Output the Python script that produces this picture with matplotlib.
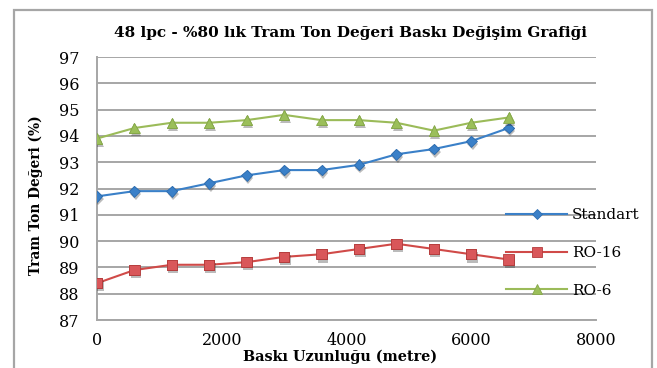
import matplotlib
matplotlib.use("Agg")
import matplotlib.pyplot as plt
import matplotlib.patheffects as pe
from matplotlib.patches import Rectangle

# Print length (metres) and measured tone values (%)
baski_uzunlugu = [0, 600, 1200, 1800, 2400, 3000, 3600, 4200, 4800, 5400, 6000, 6600]
standart = [91.7, 91.9, 91.9, 92.2, 92.5, 92.7, 92.7, 92.9, 93.3, 93.5, 93.8, 94.3]
ro_16 = [88.4, 88.9, 89.1, 89.1, 89.2, 89.4, 89.5, 89.7, 89.9, 89.7, 89.5, 89.3]
ro_6 = [93.9, 94.3, 94.5, 94.5, 94.6, 94.8, 94.6, 94.6, 94.5, 94.2, 94.5, 94.7]

x_ticks = [0, 2000, 4000, 6000, 8000]
y_ticks = [87, 88, 89, 90, 91, 92, 93, 94, 95, 96, 97]

title = "48 lpc - %80 lık Tram Ton Değeri Baskı Değişim Grafiği"
x_label = "Baskı Uzunluğu (metre)"
y_label = "Tram Ton Değeri (%)"

SERIF = ["DejaVu Serif"]
plt.rcParams["font.family"] = SERIF

W, H = 657, 368
fig = plt.figure(figsize=(W / 100, H / 100), dpi=100)
fig.patch.set_facecolor("white")

# outer chart frame
fig.patches.append(Rectangle((14 / W, -0.05), (652 - 14) / W, 1.05 - 10 / H,
                             transform=fig.transFigure, fill=False,
                             edgecolor="#a6a6a6", linewidth=1.6))

ax = fig.add_axes([97 / W, 1 - 320 / H, (596 - 97) / W, (320 - 57) / H])

grid_c = "#a6a6a6"
marker_shadow = [pe.SimplePatchShadow(offset=(1.0, -2.2), alpha=0.3,
                                      shadow_rgbFace="#202020"),
                 pe.Normal()]

series = [
    (standart, "Standart", "#3a80c8", "D", 5.5, "#3a80c8", "#2f6eb0"),
    (ro_16, "RO-16", "#d04a48", "s", 7.5, "#d9575a", "#b43c3c"),
    (ro_6, "RO-6", "#9bbb59", "^", 7.5, "#9bbf5a", "#86a84a"),
]
for values, name, lc, mk, ms, fc, ec in series:
    ax.plot(baski_uzunlugu, values, color=lc, lw=1.5, marker=mk, ms=ms,
            mfc=fc, mec=ec, mew=0.6, label=name, zorder=3)
    # markers again, with a soft drop shadow
    ax.plot(baski_uzunlugu, values, linestyle="none", marker=mk, ms=ms,
            mfc=fc, mec=ec, mew=0.6, path_effects=marker_shadow, zorder=4)

ax.set_xlim(0, 8000)
ax.set_ylim(87, 97)
ax.set_xticks(x_ticks, [str(v) for v in x_ticks], family=SERIF, fontsize=11.5)
ax.set_yticks(y_ticks, [str(v) for v in y_ticks], family=SERIF, fontsize=11.5)
ax.tick_params(length=0, colors="black")
ax.tick_params(axis="x", pad=8.5)
ax.tick_params(axis="y", pad=12.5)
ax.yaxis.grid(True, color=grid_c, lw=1.4)
ax.set_axisbelow(True)
for side in ("top", "right"):
    ax.spines[side].set_visible(False)
for side in ("left", "bottom"):
    ax.spines[side].set_color(grid_c)
    ax.spines[side].set_linewidth(1.4)

ax.set_xlabel(x_label, fontsize=10.4, fontweight="bold", family=SERIF)
ax.xaxis.set_label_coords(340 / W, 1 - 357 / H, transform=fig.transFigure)
ax.xaxis.label.set_va("center")
ax.set_ylabel(y_label, fontsize=9.9, fontweight="bold", family=SERIF)
ax.yaxis.set_label_coords(36 / W, 1 - 195 / H, transform=fig.transFigure)
ax.yaxis.label.set_va("center")
fig.text(350 / W, 1 - 33 / H, title, fontsize=11, fontweight="bold",
         family=SERIF, ha="center", va="center")

leg = ax.legend(loc="center left", bbox_to_anchor=(506 / W, 1 - 253 / H),
                bbox_transform=fig.transFigure, frameon=False,
                prop={"family": SERIF, "size": 11},
                handlelength=4.0, handletextpad=0.3, labelspacing=1.55,
                borderaxespad=0, borderpad=0)

fig.savefig("out.png", dpi=100, facecolor="white")
